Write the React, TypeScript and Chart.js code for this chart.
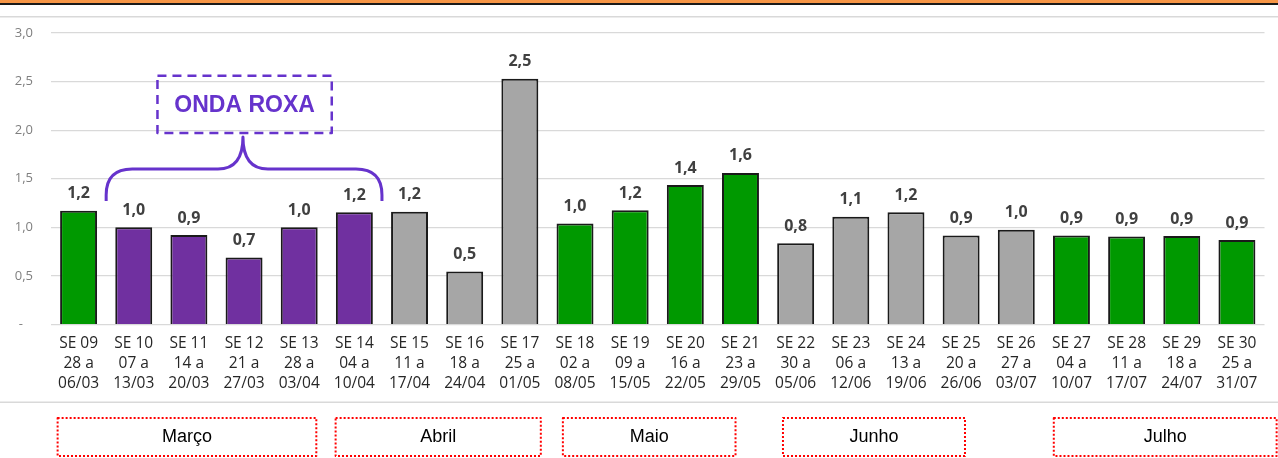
import React, { useEffect, useRef } from "react";
import { Chart, registerables } from "chart.js";

Chart.register(...registerables);

// ---------- data ----------
const WEEKS = [
  "SE 09", "SE 10", "SE 11", "SE 12", "SE 13", "SE 14", "SE 15", "SE 16",
  "SE 17", "SE 18", "SE 19", "SE 20", "SE 21", "SE 22", "SE 23", "SE 24",
  "SE 25", "SE 26", "SE 27", "SE 28", "SE 29", "SE 30",
];
const RANGE_FROM = [
  "28 a", "07 a", "14 a", "21 a", "28 a", "04 a", "11 a", "18 a",
  "25 a", "02 a", "09 a", "16 a", "23 a", "30 a", "06 a", "13 a",
  "20 a", "27 a", "04 a", "11 a", "18 a", "25 a",
];
const RANGE_TO = [
  "06/03", "13/03", "20/03", "27/03", "03/04", "10/04", "17/04", "24/04",
  "01/05", "08/05", "15/05", "22/05", "29/05", "05/06", "12/06", "19/06",
  "26/06", "03/07", "10/07", "17/07", "24/07", "31/07",
];
const RT_VALUES = [
  1.17, 1.0, 0.92, 0.69, 1.0, 1.155, 1.16, 0.545,
  2.53, 1.04, 1.175, 1.435, 1.56, 0.835, 1.11, 1.155,
  0.915, 0.975, 0.915, 0.905, 0.91, 0.87,
];
const PHASES = [
  "verde", "roxa", "roxa", "roxa", "roxa", "roxa", "cinza", "cinza",
  "cinza", "verde", "verde", "verde", "verde", "cinza", "cinza", "cinza",
  "cinza", "cinza", "verde", "verde", "verde", "verde",
];
const Y_TICKS = [0, 0.5, 1.0, 1.5, 2.0, 2.5, 3.0];
const MONTHS = ["Março", "Abril", "Maio", "Junho", "Julho"];
// month box extents in category-index units
const MONTH_FROM = [-0.38, 4.66, 8.78, 12.77, 17.68];
const MONTH_TO = [4.31, 8.38, 11.91, 16.07, 21.72];
const WAVE_LABEL = "ONDA ROXA";

// ---------- styles ----------
const PHASE_COLORS: Record<string, string> = {
  verde: "#009900",
  roxa: "#7030A0",
  cinza: "#A6A6A6",
};
const WAVE_COLOR = "#6633CC";
const FONT = "'Open Sans', 'DejaVu Sans', sans-serif";

const fmt = (v: number) => v.toFixed(1).replace(".", ",");

const decorPlugin = {
  id: "decor",
  beforeDraw(chart: any) {
    const ctx = chart.ctx;
    const W = chart.width;
    ctx.save();
    ctx.fillStyle = "#ffffff";
    ctx.fillRect(0, 0, W, chart.height);
    // top orange band + black rule
    ctx.fillStyle = "#F79646";
    ctx.fillRect(0, 0, W, 3);
    ctx.fillStyle = "#1a1a1a";
    ctx.fillRect(0, 3, W, 2);
    // light rule
    ctx.fillStyle = "#D9D9D9";
    ctx.fillRect(0, 16, W, 1.5);
    // bottom separator
    ctx.fillRect(0, 401.5, W, 1.5);
    ctx.restore();
  },
  afterDatasetsDraw(chart: any) {
    const ctx = chart.ctx;
    const meta = chart.getDatasetMeta(0);
    const ds = chart.data.datasets[0];
    ctx.save();
    // value labels
    ctx.font = `bold 16px ${FONT}`;
    ctx.fillStyle = "#404040";
    ctx.textAlign = "center";
    ctx.textBaseline = "middle";
    meta.data.forEach((bar: any, i: number) => {
      ctx.fillText(fmt(ds.data[i]), bar.x, bar.y - 17);
    });

    const xs = chart.scales.x;
    const ys = chart.scales.y;
    const x0 = xs.getPixelForValue(0);
    const step = xs.getPixelForValue(1) - x0;
    const px = (idx: number) => x0 + idx * step;

    // brace over the purple wave (SE10..SE14)
    const left = px(0.5);
    const right = px(5.5);
    const mid = px(2.98);
    const yEnd = ys.getPixelForValue(1.27);
    const yBar = ys.getPixelForValue(1.6);
    const yTip = ys.getPixelForValue(1.93);
    const r = 26;
    ctx.strokeStyle = WAVE_COLOR;
    ctx.lineWidth = 3;
    ctx.lineJoin = "round";
    ctx.lineCap = "butt";
    ctx.beginPath();
    ctx.moveTo(left, yEnd);
    ctx.lineTo(left, yBar + r);
    ctx.quadraticCurveTo(left, yBar, left + r, yBar);
    ctx.lineTo(mid - 25, yBar);
    ctx.quadraticCurveTo(mid, yBar, mid, yTip);
    ctx.quadraticCurveTo(mid, yBar, mid + 25, yBar);
    ctx.lineTo(right - r, yBar);
    ctx.quadraticCurveTo(right, yBar, right, yBar + r);
    ctx.lineTo(right, yEnd);
    ctx.stroke();

    // dashed label box
    const bx1 = px(1.43);
    const bx2 = px(4.59);
    const by1 = ys.getPixelForValue(2.56);
    const by2 = ys.getPixelForValue(1.97);
    ctx.setLineDash([9, 6]);
    ctx.lineWidth = 2.5;
    ctx.strokeRect(bx1, by1, bx2 - bx1, by2 - by1);
    ctx.setLineDash([]);
    ctx.fillStyle = WAVE_COLOR;
    ctx.font = "bold 23px 'Liberation Sans', Arial, sans-serif";
    ctx.textAlign = "center";
    ctx.textBaseline = "middle";
    ctx.fillText(WAVE_LABEL, (bx1 + bx2) / 2, (by1 + by2) / 2 + 1);

    // month boxes
    const mTop = 418;
    const mBot = 456;
    ctx.font = "18px 'Liberation Sans', Arial, sans-serif";
    MONTHS.forEach((m, i) => {
      const a = px(MONTH_FROM[i]);
      const b = Math.min(px(MONTH_TO[i]), chart.width - 1);
      ctx.strokeStyle = "#FF0000";
      ctx.lineWidth = 2;
      ctx.setLineDash([2, 2]);
      ctx.strokeRect(a, mTop, b - a, mBot - mTop);
      ctx.setLineDash([]);
      ctx.fillStyle = "#000000";
      ctx.fillText(m, (a + b) / 2, (mTop + mBot) / 2);
    });
    ctx.restore();
  },
};

export default function App() {
  const ref = useRef<HTMLCanvasElement | null>(null);

  useEffect(() => {
    document.body.style.margin = "0";
    if (!ref.current) return;
    const labels = WEEKS.map((w, i) => [w, RANGE_FROM[i], RANGE_TO[i]]);
    const chart = new Chart(ref.current, {
      type: "bar",
      data: {
        labels,
        datasets: [
          {
            data: RT_VALUES,
            backgroundColor: PHASES.map((p) => PHASE_COLORS[p]),
            borderColor: "#1a1a1a",
            borderWidth: 2,
            barPercentage: 0.67,
            categoryPercentage: 1,
          },
        ],
      },
      options: {
        animation: false,
        responsive: false,
        devicePixelRatio: 1,
        layout: { padding: { top: 33, right: 13.5, bottom: 0, left: 0 } },
        plugins: {
          legend: { display: false },
          tooltip: { enabled: false },
        },
        scales: {
          x: {
            grid: { display: false, drawTicks: false },
            border: { display: false },
            ticks: {
              autoSkip: false,
              maxRotation: 0,
              minRotation: 0,
              padding: 9,
              color: "#262626",
              font: { family: FONT, size: 15.5, lineHeight: 20 / 15.5 },
            },
            afterFit: (s: any) => {
              s.height = 133.5;
            },
          },
          y: {
            min: 0,
            max: 3,
            afterBuildTicks: (s: any) => {
              s.ticks = Y_TICKS.map((v) => ({ value: v }));
            },
            grid: { color: "#D9D9D9", lineWidth: 1.2, drawTicks: false },
            border: { display: false },
            ticks: {
              padding: 18,
              color: "#7F7F7F",
              font: { family: FONT, size: 13 },
              callback: (v: any) => (Number(v) === 0 ? "-   " : fmt(Number(v))),
            },
            afterFit: (s: any) => {
              s.width = 51;
            },
          },
        },
      },
      plugins: [decorPlugin],
    });
    return () => chart.destroy();
  }, []);

  return (
    <div style={{ width: 1278, height: 458 }}>
      <canvas ref={ref} width={1278} height={458} style={{ display: "block" }} />
    </div>
  );
}
